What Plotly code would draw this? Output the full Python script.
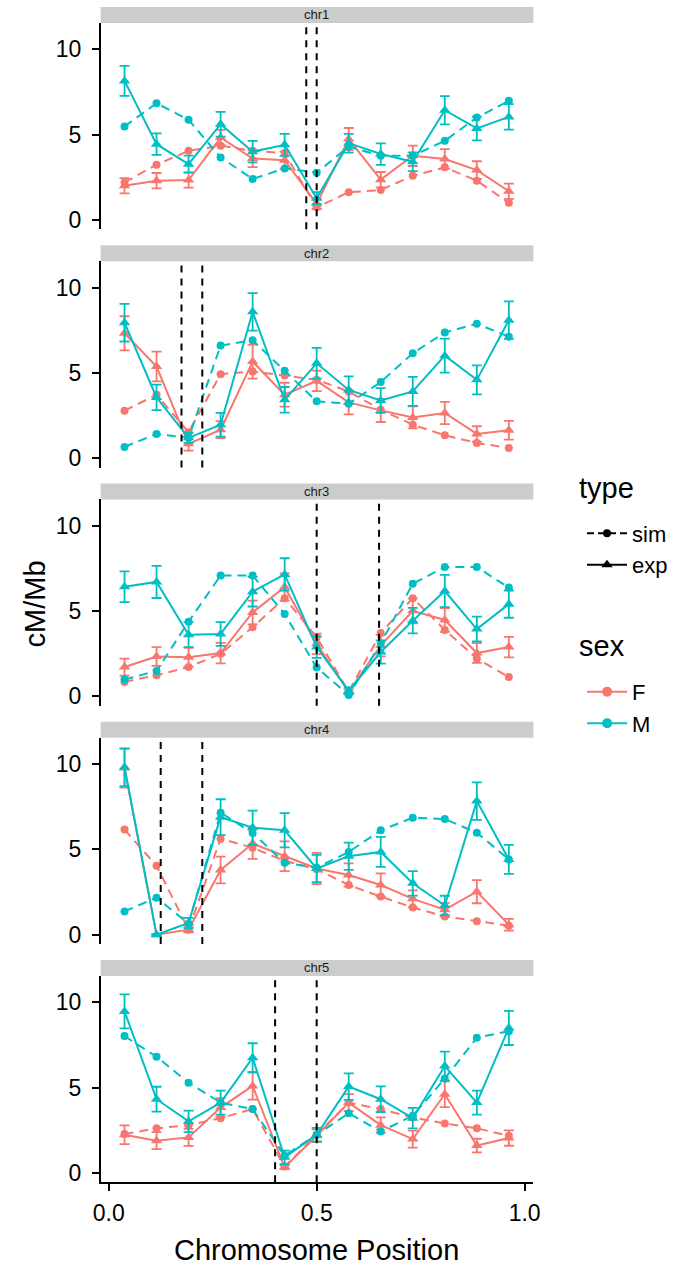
import plotly.graph_objects as go

# ---------------- data ----------------
positions = [0.038, 0.115, 0.192, 0.269, 0.346, 0.423, 0.5, 0.577, 0.654, 0.731, 0.808, 0.885, 0.962]
chromosomes = ["chr1", "chr2", "chr3", "chr4", "chr5"]

chr1_F_sim = [2.2, 3.24, 4.05, 4.35, 4.05, 3.92, 0.74, 1.62, 1.75, 2.59, 3.08, 2.3, 1.0]
chr1_F_exp = [2.0, 2.3, 2.34, 4.83, 3.6, 3.5, 0.94, 4.74, 2.36, 3.76, 3.57, 2.92, 1.68]
chr1_F_err = [0.45, 0.45, 0.45, 0.45, 0.5, 0.5, 0.3, 0.65, 0.45, 0.6, 0.58, 0.52, 0.45]
chr1_M_sim = [5.48, 6.84, 5.87, 3.66, 2.40, 3.02, 2.77, 4.3, 3.76, 3.76, 4.64, 6.0, 6.98]
chr1_M_exp = [8.15, 4.44, 3.27, 5.61, 4.0, 4.4, 1.27, 4.5, 3.86, 3.41, 6.43, 5.36, 6.04]
chr1_M_err = [0.88, 0.63, 0.5, 0.73, 0.63, 0.65, 0.35, 0.55, 0.63, 0.55, 0.83, 0.7, 0.75]
chr1_cutoffs = [0.475, 0.5]

chr2_F_sim = [2.78, 3.72, 1.52, 4.92, 5.08, 4.84, 4.6, 3.91, 2.84, 1.96, 1.34, 0.89, 0.6]
chr2_F_exp = [7.32, 5.37, 0.84, 1.67, 5.66, 3.72, 4.53, 3.27, 2.8, 2.39, 2.65, 1.42, 1.63]
chr2_F_err = [1.0, 0.87, 0.4, 0.5, 1.0, 0.7, 0.6, 0.7, 0.68, 0.65, 0.65, 0.45, 0.55]
chr2_M_sim = [0.66, 1.42, 1.19, 6.6, 6.91, 5.12, 3.33, 3.19, 4.46, 6.15, 7.37, 7.88, 7.12]
chr2_M_exp = [7.94, 3.56, 1.19, 1.96, 8.58, 3.42, 5.56, 4.0, 3.38, 3.91, 6.01, 4.59, 8.09]
chr2_M_err = [1.1, 0.75, 0.3, 0.7, 1.1, 0.75, 0.9, 0.8, 0.73, 0.85, 1.0, 0.85, 1.1]
chr2_cutoffs = [0.175, 0.225]

chr3_F_sim = [0.85, 1.24, 1.72, 2.5, 4.05, 5.76, 3.47, 0.27, 3.72, 5.76, 3.9, 2.21, 1.14]
chr3_F_exp = [1.72, 2.34, 2.3, 2.54, 4.92, 6.41, 3.08, 0.27, 2.98, 5.02, 4.48, 2.54, 2.89]
chr3_F_err = [0.5, 0.55, 0.55, 0.6, 0.7, 0.8, 0.6, 0.15, 0.63, 0.73, 0.7, 0.58, 0.6]
chr3_M_sim = [0.99, 1.49, 4.38, 7.09, 7.09, 4.83, 1.69, 0.08, 3.1, 6.61, 7.58, 7.58, 6.38]
chr3_M_exp = [6.43, 6.71, 3.62, 3.66, 6.14, 7.15, 2.89, 0.33, 2.6, 4.44, 6.18, 3.95, 5.41]
chr3_M_err = [0.9, 0.94, 0.73, 0.7, 0.87, 0.95, 0.63, 0.2, 0.68, 0.75, 0.95, 0.73, 0.8]
chr3_cutoffs = [0.5, 0.65]

chr4_F_sim = [6.16, 4.04, 0.29, 5.63, 5.09, 4.33, 3.83, 2.91, 2.23, 1.59, 1.07, 0.78, 0.52]
chr4_F_exp = [9.77, 0.0, 0.29, 3.79, 5.34, 4.6, 3.88, 3.5, 2.91, 2.1, 1.46, 2.52, 0.58]
chr4_F_err = [1.15, 0.05, 0.15, 0.78, 0.9, 0.87, 0.92, 0.68, 0.68, 0.5, 0.4, 0.68, 0.35]
chr4_M_sim = [1.36, 2.17, 0.64, 7.15, 5.96, 4.21, 3.92, 4.85, 6.12, 6.85, 6.78, 5.98, 4.41]
chr4_M_exp = [9.81, 0.0, 0.68, 6.89, 6.27, 6.12, 3.88, 4.6, 4.85, 3.01, 1.71, 7.83, 4.41]
chr4_M_err = [1.1, 0.05, 0.3, 1.05, 1.0, 1.0, 0.8, 0.8, 0.88, 0.72, 0.57, 1.1, 0.85]
chr4_cutoffs = [0.125, 0.225]

chr5_F_sim = [2.28, 2.61, 2.8, 3.21, 3.74, 0.37, 2.24, 4.12, 3.74, 3.25, 2.9, 2.61, 2.18]
chr5_F_exp = [2.24, 1.89, 2.08, 3.83, 5.1, 0.33, 2.18, 4.12, 2.8, 1.98, 4.61, 1.6, 2.04]
chr5_F_err = [0.55, 0.5, 0.5, 0.55, 0.8, 0.1, 0.37, 0.5, 0.45, 0.5, 0.75, 0.4, 0.45]
chr5_M_sim = [8.02, 6.81, 5.29, 4.12, 3.74, 1.01, 2.24, 3.5, 2.43, 3.35, 5.53, 7.92, 8.31]
chr5_M_exp = [9.47, 4.32, 3.02, 4.12, 6.75, 0.91, 2.24, 5.06, 4.32, 3.21, 6.26, 4.12, 8.5]
chr5_M_err = [1.0, 0.73, 0.63, 0.7, 0.85, 0.4, 0.4, 0.78, 0.75, 0.6, 0.85, 0.7, 1.0]
chr5_cutoffs = [0.4, 0.5]

y_ticks = [0, 5, 10]
x_ticks = [0, 0.5, 1.0]
x_ticklabels = ["0.0", "0.5", "1.0"]
type_labels = ["sim", "exp"]
sex_labels = ["F", "M"]

panels = [
    ("chr1", chr1_F_sim, chr1_F_exp, chr1_F_err, chr1_M_sim, chr1_M_exp, chr1_M_err, chr1_cutoffs),
    ("chr2", chr2_F_sim, chr2_F_exp, chr2_F_err, chr2_M_sim, chr2_M_exp, chr2_M_err, chr2_cutoffs),
    ("chr3", chr3_F_sim, chr3_F_exp, chr3_F_err, chr3_M_sim, chr3_M_exp, chr3_M_err, chr3_cutoffs),
    ("chr4", chr4_F_sim, chr4_F_exp, chr4_F_err, chr4_M_sim, chr4_M_exp, chr4_M_err, chr4_cutoffs),
    ("chr5", chr5_F_sim, chr5_F_exp, chr5_F_err, chr5_M_sim, chr5_M_exp, chr5_M_err, chr5_cutoffs),
]

# ---------------- style ----------------
F_COLOR = "#F8766D"
M_COLOR = "#00BFC4"
FONT = "Liberation Sans, Arial, Helvetica, sans-serif"
W, H = 673, 1268
PLOT_L, PLOT_R = 95, 539
PANEL_TOP0, PANEL_H, PANEL_STEP, STRIP_H = 23, 207, 239, 16
X_RANGE = [-0.0195, 1.021]
Y_RANGE = [-0.55, 11.55]
DASH = "9px,6px"
LW = 2

fig = go.Figure()
layout = dict(
    width=W, height=H,
    margin=dict(l=0, r=0, t=0, b=0),
    paper_bgcolor="white", plot_bgcolor="white",
    font=dict(family=FONT, color="black"),
    shapes=[], annotations=[],
)

for k, (name, fs, fe, fer, ms, me, mer, cuts) in enumerate(panels):
    idx = k + 1
    sfx = "" if idx == 1 else str(idx)
    xa, ya = "x" + sfx, "y" + sfx
    top = PANEL_TOP0 + k * PANEL_STEP
    bottom = top + PANEL_H
    is_last = idx == len(panels)

    layout["xaxis" + sfx] = dict(
        domain=[PLOT_L / W, PLOT_R / W], range=X_RANGE, anchor=ya,
        showgrid=False, zeroline=False,
        showline=is_last, linecolor="black", linewidth=1.5,
        ticks="outside" if is_last else "", ticklen=7, tickwidth=1.5, tickcolor="black",
        tickvals=x_ticks, ticktext=x_ticklabels, showticklabels=is_last,
        ticklabelstandoff=2,
        tickfont=dict(size=23, color="black", family=FONT),
        fixedrange=True,
    )
    layout["yaxis" + sfx] = dict(
        domain=[1 - bottom / H, 1 - top / H], range=Y_RANGE, anchor=xa,
        showgrid=False, zeroline=False,
        showline=True, linecolor="black", linewidth=1.5,
        ticks="outside", ticklen=7, tickwidth=1.5, tickcolor="black",
        ticklabelstandoff=6,
        tickvals=y_ticks, tickfont=dict(size=23, color="black", family=FONT),
        fixedrange=True,
    )

    # strip
    layout["shapes"].append(dict(
        type="rect", xref="paper", yref="paper",
        x0=PLOT_L / W, x1=PLOT_R / W, y0=1 - top / H, y1=1 - (top - STRIP_H) / H,
        fillcolor="#CCCCCC", line=dict(width=0), layer="below",
    ))
    layout["annotations"].append(dict(
        text=name, xref="paper", yref="paper",
        x=(PLOT_L + PLOT_R) / 2 / W, y=1 - (top - STRIP_H / 2) / H,
        xanchor="center", yanchor="middle", showarrow=False,
        font=dict(size=13, color="#1A1A1A", family=FONT),
    ))

    # cutoff lines
    for c in cuts:
        layout["shapes"].append(dict(
            type="line", xref=xa, yref=ya + " domain",
            x0=c, x1=c, y0=0, y1=1,
            line=dict(color="black", width=2, dash="7px,6px"),
        ))

    for color, sim, exp, err in ((F_COLOR, fs, fe, fer), (M_COLOR, ms, me, mer)):
        fig.add_trace(go.Scatter(
            x=positions, y=sim, xaxis=xa, yaxis=ya, mode="lines+markers",
            line=dict(color=color, width=LW, dash=DASH),
            marker=dict(symbol="circle", size=8, color=color),
            showlegend=False, hoverinfo="skip",
        ))
        fig.add_trace(go.Scatter(
            x=positions, y=exp, xaxis=xa, yaxis=ya, mode="lines+markers",
            line=dict(color=color, width=LW),
            marker=dict(symbol="triangle-up", size=10, color=color),
            error_y=dict(type="data", array=err, visible=True, color=color, thickness=1.8, width=5),
            showlegend=False, hoverinfo="skip",
        ))

# legend dummy traces
last_x, last_y = "x5", "y5"
fig.add_trace(go.Scatter(x=[None], y=[None], xaxis=last_x, yaxis=last_y, name=type_labels[0],
                         mode="lines+markers", line=dict(color="black", width=LW, dash="7px,4px"),
                         marker=dict(symbol="circle", size=8, color="black"), legend="legend"))
fig.add_trace(go.Scatter(x=[None], y=[None], xaxis=last_x, yaxis=last_y, name=type_labels[1],
                         mode="lines+markers", line=dict(color="black", width=LW),
                         marker=dict(symbol="triangle-up", size=10, color="black"), legend="legend"))
fig.add_trace(go.Scatter(x=[None], y=[None], xaxis=last_x, yaxis=last_y, name=sex_labels[0],
                         mode="lines+markers", line=dict(color=F_COLOR, width=LW),
                         marker=dict(symbol="circle", size=10, color=F_COLOR), legend="legend2"))
fig.add_trace(go.Scatter(x=[None], y=[None], xaxis=last_x, yaxis=last_y, name=sex_labels[1],
                         mode="lines+markers", line=dict(color=M_COLOR, width=LW),
                         marker=dict(symbol="circle", size=10, color=M_COLOR), legend="legend2"))

legend_common = dict(
    xanchor="left", yanchor="top", bgcolor="rgba(0,0,0,0)", borderwidth=0,
    font=dict(size=22, color="black", family=FONT), itemwidth=40, tracegroupgap=0,
    itemclick=False, itemdoubleclick=False,
)
layout["legend"] = dict(legend_common, x=589 / W, y=1 - 514 / H)
layout["legend2"] = dict(legend_common, x=589 / W, y=1 - 673 / H)

# legend titles
layout["annotations"].append(dict(
    text="type", xref="paper", yref="paper", x=584 / W, y=1 - 490 / H,
    xanchor="left", yanchor="middle", showarrow=False,
    font=dict(size=29, color="black", family=FONT),
))
layout["annotations"].append(dict(
    text="sex", xref="paper", yref="paper", x=584 / W, y=1 - 648 / H,
    xanchor="left", yanchor="middle", showarrow=False,
    font=dict(size=29, color="black", family=FONT),
))

# axis titles
layout["annotations"].append(dict(
    text="Chromosome Position", xref="paper", yref="paper",
    x=(PLOT_L + PLOT_R) / 2 / W, y=1 - 1254 / H, xanchor="center", yanchor="middle",
    showarrow=False, font=dict(size=29, color="black", family=FONT),
))
layout["annotations"].append(dict(
    text="cM/Mb", xref="paper", yref="paper", textangle=-90,
    x=28 / W, y=1 - 606 / H, xanchor="center", yanchor="middle",
    showarrow=False, font=dict(size=29, color="black", family=FONT),
))

fig.update_layout(**layout)
fig.write_html("out.html", config={"displayModeBar": False},
               post_script="document.body.style.margin='0px';")
